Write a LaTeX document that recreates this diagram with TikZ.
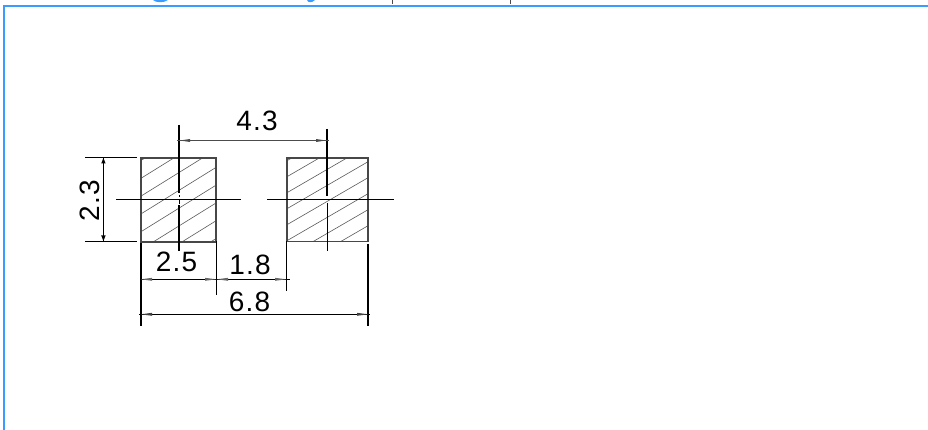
\documentclass[tikz,border=0pt]{standalone}
\usepackage{fontspec}
\setmainfont{Liberation Sans}
\newfontfamily\dimfont[LetterSpace=4.5]{Liberation Sans}
\definecolor{framecol}{RGB}{58,156,255}
\begin{document}
\begin{tikzpicture}[x=1pt,y=-1pt,
  thin line/.style={line width=0.9pt,black},
  axis/.style={line width=1.7pt,black},
  hatch/.style={line width=0.6pt,black!65},
  padbox/.style={draw=black!72,line width=1.7pt,inner sep=0pt,outer sep=0pt},
  dim/.style={inner sep=0pt,font=\dimfont\fontsize{28}{28}\selectfont},
  tip/.style={fill=black!70,draw=none}]
\useasboundingbox (0,0) rectangle (928,430);
\draw[line width=2pt,framecol] (4,430) -- (4,6) -- (928,6);
\fill[framecol] (153,0) .. controls (156,3) and (164,3) .. (168,0) -- cycle;
\fill[framecol] (307,0) .. controls (308,3) and (312,3) .. (315,0) -- cycle;
\fill[black!70] (391.5,0) rectangle (393,4);
\fill[black!70] (509.5,0) rectangle (511,4);
% hatching
\begin{scope}
\clip (141,157.5) rectangle (216.5,241.5);
\foreach \k in {0,...,8}
  \draw[hatch] (141,{160.5+\k*17.8}) -- +(100,-62);
\end{scope}
\begin{scope}
\clip (287,157.5) rectangle (368,241.5);
\foreach \k in {0,...,10}
  \draw[hatch] (287,{160.7+\k*16}) -- +(100,-58);
\end{scope}
\node[padbox,minimum width=75.2pt,minimum height=84pt] (padL) at (178.7,199.75) {};
\node[padbox,minimum width=81.3pt,minimum height=83.7pt] (padR) at (327.35,199.8) {};
% centre lines
\coordinate (lh1) at (116,199.3); \coordinate (lh2) at (241,199.3);
\coordinate (rh1) at (267,199.3); \coordinate (rh2) at (394,199.3);
\draw[thin line] (lh1) -- (lh2);
\draw[thin line] (rh1) -- (rh2);
\coordinate (la) at (179.1,125); \coordinate (lb) at (179.1,193.5);
\coordinate (lc) at (179.1,205); \coordinate (ld) at (179.1,250.5);
\draw[axis] (la) -- (lb);
\draw[axis] (lc) -- (ld);
\draw[line width=0.6pt] (179.1,195.5) -- (179.1,197.5) (179.1,200.5) -- (179.1,204);
\coordinate (ra) at (327,129); \coordinate (rb) at (327,196);
\coordinate (rc) at (327,203); \coordinate (rd) at (327,250.5);
\draw[axis] (ra) -- (rb);
\draw[line width=0.9pt] (rc) -- (rd);
% 4.3
\draw[line width=0.9pt,black!70] (177,140.5) -- (329,140.5);
\fill[tip] (180,140.5) -- (190,139) -- (190,142) -- cycle;
\fill[tip] (326,140.5) -- (316,139) -- (316,142) -- cycle;
\node[dim] (t43) at (257,121) {4.3};
% 2.3
\coordinate (e1) at (85,157.5); \coordinate (e2) at (137,157.5);
\coordinate (e3) at (85,241.5); \coordinate (e4) at (137,241.5);
\draw[thin line] (e1) -- (e2);
\draw[thin line] (e3) -- (e4);
\draw[line width=1.2pt] (103.4,158) -- (103.4,241);
\fill[black] (103.4,158) -- (101.2,163.5) -- (105.6,163.5) -- cycle;
\fill[black] (103.4,241) -- (101.2,235.5) -- (105.6,235.5) -- cycle;
\node[dim,rotate=90] (t23) at (90.3,201) {2.3};
% bottom dims
\coordinate (b1) at (141.2,243); \coordinate (b2) at (141.2,326);
\coordinate (b3) at (216.7,241); \coordinate (b4) at (216.7,295);
\coordinate (b5) at (286.5,241); \coordinate (b6) at (286.5,291);
\coordinate (b7) at (368,244); \coordinate (b8) at (368,326);
\draw[line width=1.5pt] (b1) -- (b2);
\draw[line width=0.9pt] (b3) -- (b4);
\draw[line width=0.9pt] (b5) -- (b6);
\draw[line width=1.5pt] (b7) -- (b8);
\draw[line width=0.9pt] (141,279.3) -- (290,279.3);
\foreach \a/\b in {141/152,216/205,217/228,286/275}
  \fill[black!60] (\a,279.3) -- (\b,277.8) -- (\b,280.8) -- cycle;
\draw[line width=0.9pt] (139,314.3) -- (370,314.3);
\foreach \a/\b in {141/152,368/357}
  \fill[black!75] (\a,314.3) -- (\b,312.8) -- (\b,315.8) -- cycle;
\node[dim] (t25) at (176.5,261.7) {2.5};
\node[dim] (t18) at (250,265) {1.8};
\node[dim] (t68) at (249.5,301.7) {6.8};
\end{tikzpicture}
\end{document}
